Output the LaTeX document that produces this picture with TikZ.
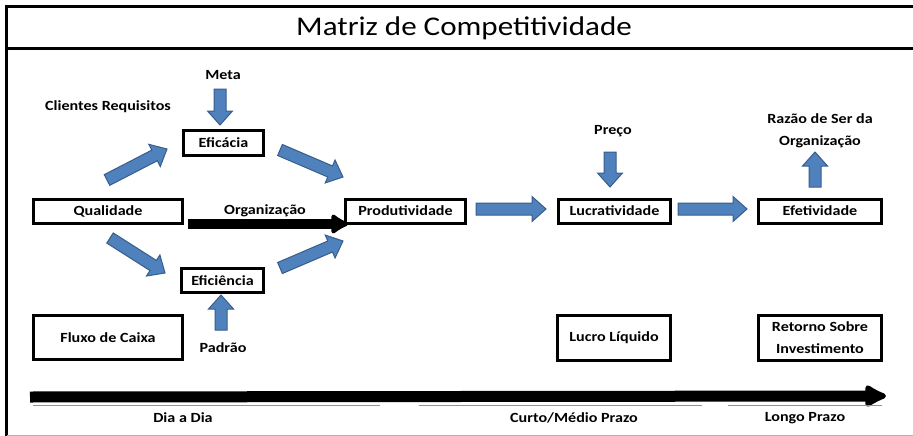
\documentclass[tikz,border=0pt]{standalone}
\usepackage{fontspec}
\setmainfont{Carlito}
\newfontfamily\largo[FakeStretch=1.15]{Carlito}
\usetikzlibrary{calc,arrows.meta}
\definecolor{setaazul}{HTML}{4F81BD}
\definecolor{bordaazul}{HTML}{385D8A}
\definecolor{linhaazul}{HTML}{6A9AD6}
\newcommand\setagorda[2]{%
  \filldraw[azul] ($(#1)!6pt!90:(#2)$)
    -- ($(#2)!14pt!(#1)!6pt!90:(#2)$)
    -- ($(#2)!14pt!(#1)!12.5pt!90:(#2)$)
    -- (#2)
    -- ($(#2)!14pt!(#1)!12.5pt!-90:(#2)$)
    -- ($(#2)!14pt!(#1)!6pt!-90:(#2)$)
    -- ($(#1)!6pt!-90:(#2)$) -- cycle;
}
\begin{document}
\begin{tikzpicture}[x=1pt,y=-1pt,thick,
  caixa/.style={draw,line width=3pt,inner sep=0pt,minimum height=24pt,
    font=\largo\fontsize{14}{22}\selectfont\bfseries,align=center},
  rotulo/.style={font=\largo\fontsize{14}{22}\selectfont\bfseries,align=center},
  azul/.style={fill=setaazul,draw=bordaazul,line width=1pt}]
\useasboundingbox (0,0) rectangle (913,436);
\draw[line width=3pt] (6.5,436) -- (6.5,7) -- (913,7);
\draw[line width=3pt] (6.5,48.5) -- (913,48.5);
\draw[black!30,line width=1.5pt] (6.5,435.5) -- (913,435.5);
\node (titulo) at (464,28) {\largo\fontsize{27}{30}\selectfont Matriz de Competitividade};

\node[caixa,minimum width=149pt] (qualidade) at (108,211.5) {Qualidade};
\node[caixa,minimum width=80pt,minimum height=25pt] (eficacia) at (223.5,143) {Eficácia};
\node[caixa,minimum width=82pt] (eficiencia) at (222.5,280.5) {Eficiência};
\node[caixa,minimum width=120pt] (produtividade) at (405.5,211) {Produtividade};
\node[caixa,minimum width=112pt] (lucratividade) at (614.5,211) {Lucratividade};
\node[caixa,minimum width=123pt] (efetividade) at (820,211) {Efetividade};
\node[caixa,minimum width=149pt,minimum height=44pt] (fluxo) at (108,337.5) {Fluxo de Caixa};
\node[caixa,minimum width=113pt,minimum height=45pt] (lucro) at (614,338) {Lucro Líquido};
\node[caixa,minimum width=123pt,minimum height=45pt] (retorno) at (820,338) {Retorno Sobre\\Investimento};

\node[rotulo] (meta) at (223,75) {Meta};
\node[rotulo] (clientes) at (108,107) {Clientes Requisitos};
\node[rotulo] (organizacao) at (265,211) {Organização};
\node[rotulo] (padrao) at (223,348) {Padrão};
\node[rotulo] (preco) at (613,131) {Preço};
\node[rotulo] (razao) at (820,131) {Razão de Ser da\\Organização};
\node[rotulo] (diaadia) at (183,418) {Dia a Dia};
\node[rotulo] (curto) at (574,418) {Curto/Médio Prazo};
\node[rotulo] (longo) at (805,418) {Longo Prazo};

\coordinate (meta-a) at (220,89);    \coordinate (meta-b) at (220,125);
\coordinate (padrao-a) at (221,330); \coordinate (padrao-b) at (221,295);
\coordinate (preco-a) at (610,152);  \coordinate (preco-b) at (610,187);
\coordinate (razao-a) at (815,187);  \coordinate (razao-b) at (815,152);
\coordinate (qe-a) at (107,180);     \coordinate (qe-b) at (167,149);
\coordinate (ep-a) at (280,150);     \coordinate (ep-b) at (343,177);
\coordinate (qf-a) at (110,238);     \coordinate (qf-b) at (165,273);
\coordinate (fp-a) at (280,268);     \coordinate (fp-b) at (343,241);
\coordinate (pl-a) at (476,209);     \coordinate (pl-b) at (546,209);
\coordinate (le-a) at (678,209);     \coordinate (le-b) at (747,209);
\foreach \s in {meta,padrao,preco,razao,qe,ep,qf,fp,pl,le}{
  \setagorda{\s-a}{\s-b}
}

\coordinate (org-a) at (188,224); \coordinate (org-b) at (348,224);
\draw[line width=10pt,-{Latex[round,length=20pt,width=24pt]}] (org-a) -- (org-b);
\coordinate (tempo-a) at (30,397); \coordinate (tempo-b) at (886,396);
\draw[line width=11pt,-{Latex[round,length=26pt,width=27pt]}] (tempo-a) -- (tempo-b);
\foreach \a/\b in {33/380,419/702,728/882}{
  \draw[linhaazul,line width=1pt] (\a,405.5) -- (\b,405.5);
}
\end{tikzpicture}
\end{document}
